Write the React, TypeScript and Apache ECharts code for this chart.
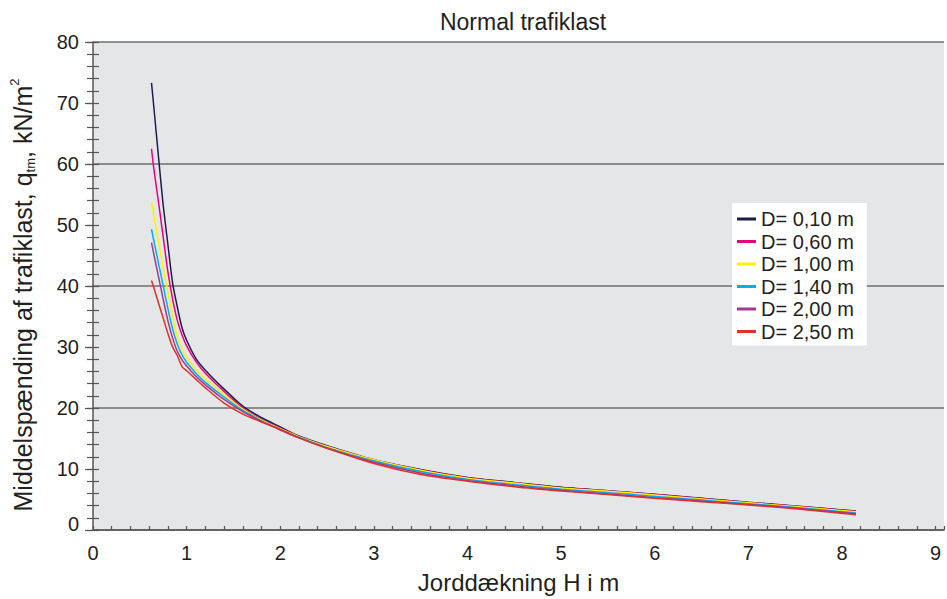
import React, { useEffect, useRef } from "react";
import * as echarts from "echarts";

const H = [0.625, 0.65, 0.7, 0.75, 0.8, 0.85, 0.9, 0.95, 1.0, 1.1, 1.2, 1.4, 1.6, 1.8, 2.0, 2.2, 2.5, 3.0, 3.5, 4.0, 4.5, 5.0, 5.5, 6.0, 6.5, 7.0, 7.5, 8.15];

const D010 = [73.3, 69.3, 61.1, 53.2, 46.8, 40.5, 36.6, 33.2, 31.1, 28.1, 26.2, 23.1, 20.3, 18.4, 16.9, 15.4, 13.8, 11.5, 9.9, 8.6, 7.8, 7.0, 6.45, 5.85, 5.2, 4.55, 3.95, 3.1];
const D060 = [62.5, 59.2, 53.7, 48.0, 42.3, 37.9, 34.4, 32.0, 30.2, 27.6, 25.7, 22.7, 20.0, 18.1, 16.7, 15.3, 13.7, 11.5, 9.85, 8.55, 7.75, 6.95, 6.4, 5.8, 5.15, 4.5, 3.9, 3.05];
const D100 = [53.7, 51.5, 47.2, 43.0, 39.0, 35.0, 31.7, 29.6, 28.3, 26.3, 24.8, 22.2, 19.8, 18.0, 16.6, 15.3, 13.7, 11.5, 9.8, 8.5, 7.7, 6.9, 6.35, 5.75, 5.1, 4.45, 3.85, 3.0];
const D140 = [49.3, 47.4, 43.7, 40.0, 36.3, 33.0, 30.5, 28.7, 27.5, 25.7, 24.2, 21.8, 19.6, 17.9, 16.5, 15.2, 13.5, 11.3, 9.6, 8.3, 7.45, 6.7, 6.1, 5.5, 4.9, 4.3, 3.7, 2.8];
const D200 = [47.1, 45.2, 41.5, 37.8, 34.3, 31.5, 29.3, 27.9, 26.9, 25.2, 23.8, 21.4, 19.4, 17.8, 16.4, 15.1, 13.4, 11.1, 9.35, 8.1, 7.25, 6.5, 5.9, 5.3, 4.75, 4.2, 3.6, 2.65];
const D250 = [40.9, 39.7, 37.2, 34.7, 32.2, 30.0, 28.6, 26.8, 26.1, 24.7, 23.3, 20.8, 19.0, 17.7, 16.5, 15.1, 13.4, 10.9, 9.1, 8.0, 7.1, 6.4, 5.8, 5.2, 4.65, 4.1, 3.5, 2.5];

const SERIES_NAMES = ["D= 0,10 m", "D= 0,60 m", "D= 1,00 m", "D= 1,40 m", "D= 2,00 m", "D= 2,50 m"];
const SERIES_VALUES = [D010, D060, D100, D140, D200, D250];
const COLORS = ["#1e1c4c", "#e6007e", "#fff200", "#00aeef", "#a2398f", "#e0302a"];

const TITLE = "Normal trafiklast";
const X_NAME = "Jorddækning H i m";

const FONT = '"Liberation Sans", Arial, Helvetica, sans-serif';
const TEXT = "#231f20";
const AXIS = "#555555";

export default function App() {
  const ref = useRef<HTMLDivElement>(null);
  useEffect(() => {
    if (!ref.current) return;
    const chart = echarts.init(ref.current, undefined, { renderer: "svg" });
    const hiddenY = (interval: number, extra: any) => ({
      type: "value",
      min: 0,
      max: 80,
      interval,
      position: "left",
      axisLine: { show: false },
      axisLabel: { show: false },
      splitLine: { show: false },
      axisTick: { show: false },
      ...extra,
    });
    chart.setOption({
      animation: false,
      textStyle: { fontFamily: FONT, color: TEXT },
      title: {
        text: TITLE,
        left: 523,
        textAlign: "center",
        top: 10,
        padding: 0,
        textStyle: { fontFamily: FONT, fontSize: 23, fontWeight: "normal", color: TEXT },
      },
      grid: {
        left: 93,
        top: 42,
        right: 0,
        bottom: 67,
        show: true,
        backgroundColor: "#e5e6e8",
        borderWidth: 0,
      },
      legend: {
        orient: "vertical",
        left: 732,
        top: 203,
        backgroundColor: "#ffffff",
        padding: [5, 13, 3, 5],
        itemGap: 0.5,
        itemWidth: 19,
        itemHeight: 3,
        icon: "rect",
        textStyle: { fontFamily: FONT, fontSize: 20, lineHeight: 22, color: TEXT },
        data: SERIES_NAMES,
      },
      xAxis: [
        {
          type: "value",
          min: 0,
          max: 9.09,
          interval: 1,
          name: X_NAME,
          nameLocation: "middle",
          nameGap: 40,
          nameTextStyle: { fontFamily: FONT, fontSize: 24, color: TEXT },
          axisLine: { show: true, lineStyle: { color: AXIS, width: 1.5 } },
          axisTick: { show: false },
          splitLine: { show: false },
          axisLabel: {
            fontFamily: FONT,
            fontSize: 20,
            color: TEXT,
            margin: 13,
            formatter: (v: number) => (Math.abs(v - Math.round(v)) < 1e-6 ? String(Math.round(v)) : ""),
          },
        },
        {
          type: "value",
          min: 0,
          max: 9.09,
          interval: 0.2,
          position: "bottom",
          axisLine: { show: false },
          axisLabel: { show: false },
          splitLine: { show: false },
          axisTick: { show: true, inside: true, length: 4, lineStyle: { color: AXIS, width: 1.2 } },
        },
      ],
      yAxis: [
        {
          type: "value",
          min: 0,
          max: 80,
          interval: 10,
          position: "left",
          name: "{a|Middelspænding af trafiklast, q}{b|tm}{a|, kN/m}{c|2}",
          nameLocation: "middle",
          nameGap: 56,
          nameTextStyle: {
            fontFamily: FONT,
            fontSize: 25,
            color: TEXT,
            padding: [0, 18, 0, 0],
            rich: {
              a: { fontFamily: FONT, fontSize: 25, lineHeight: 29, color: TEXT },
              b: { fontFamily: FONT, fontSize: 13, lineHeight: 12, verticalAlign: "bottom", color: TEXT },
              c: { fontFamily: FONT, fontSize: 13, lineHeight: 13, verticalAlign: "top", color: TEXT },
            },
          },
          axisLine: { show: true, lineStyle: { color: AXIS, width: 1.5 } },
          axisTick: { show: true, inside: false, length: 8, lineStyle: { color: AXIS, width: 1.2 } },
          splitLine: { show: false },
          axisLabel: {
            fontFamily: FONT,
            fontSize: 20,
            color: TEXT,
            margin: 14,
            formatter: (v: number) => (v === 0 ? "{z|0}" : String(v)),
            rich: { z: { fontFamily: FONT, fontSize: 20, color: TEXT, padding: [0, 0, 12, 0] } },
          },
        },
        hiddenY(20, { splitLine: { show: true, lineStyle: { color: "#6e6e6e", width: 1.5 } } }),
        hiddenY(2, { axisTick: { show: true, inside: true, length: 6, lineStyle: { color: AXIS, width: 1.2 } } }),
        hiddenY(2, { axisTick: { show: true, inside: false, length: 6, lineStyle: { color: AXIS, width: 1.2 } } }),
      ],
      series: SERIES_NAMES.map((name, si) => ({
        name,
        type: "line",
        xAxisIndex: 0,
        yAxisIndex: 0,
        showSymbol: false,
        symbol: "none",
        smooth: 0.25,
        color: COLORS[si],
        lineStyle: { color: COLORS[si], width: 1.5 },
        data: H.map((h, i) => [h, SERIES_VALUES[si][i]]),
      })),
    });
    return () => chart.dispose();
  }, []);
  return <div ref={ref} style={{ position: "absolute", left: 0, top: 0, width: 947, height: 599 }} />;
}
